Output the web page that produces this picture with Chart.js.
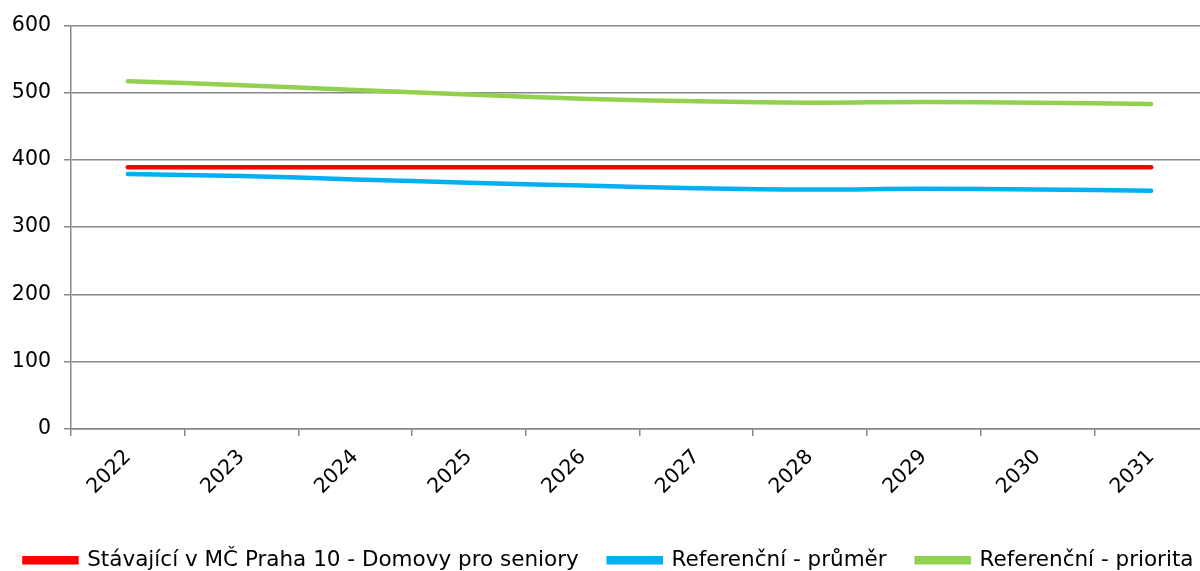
<!DOCTYPE html>
<html>
<head>
<meta charset="utf-8">
<script src="https://cdn.jsdelivr.net/npm/chart.js@4"></script>
<style>
  body { margin: 0; background: #fff; }
  #wrap { width: 1200px; height: 571px; overflow: hidden; }
  #graph { margin-left: -22px; display: block; }
</style>
</head>
<body>
<div id="wrap"><canvas id="graph" width="1262" height="581"></canvas></div>
<script>
const years = ['2022', '2023', '2024', '2025', '2026', '2027', '2028', '2029', '2030', '2031'];
const stavajici = [389, 389, 389, 389, 389, 389, 389, 389, 389, 389];
const prumer = [379, 376, 371, 366, 362, 358, 356, 357, 356, 354];
const priorita = [517, 511, 504, 497, 491, 487, 485, 486, 485, 483];

const family = '"DejaVu Sans", Verdana, sans-serif';
const tickFont = { family: family, size: 20.5 };
const legendFont = { family: family, size: 21.5 };

function line(label, data, color) {
    return {
        label: label,
        data: data,
        borderColor: color,
        backgroundColor: color,
        borderWidth: 4.5,
        pointRadius: 0,
        tension: 0.4,
        borderCapStyle: 'round'
    };
}

const config = {
    type: 'line',
    data: {
        labels: years,
        datasets: [
            line('Stávající v MČ Praha 10 - Domovy pro seniory', stavajici, '#ff0000'),
            line('Referenční - průměr', prumer, '#00b0f0'),
            line('Referenční - priorita', priorita, '#92d050')
        ]
    },
    options: {
        responsive: false,
        animation: false,
        layout: { padding: { top: 12, left: 0, right: 0, bottom: 0 } },
        scales: {
            y: {
                min: 0,
                max: 600,
                ticks: { stepSize: 100, color: '#000', font: tickFont, padding: 13 },
                grid: { color: '#888', lineWidth: 1.5, tickLength: 7 },
                border: { color: '#888', width: 1.5 },
                afterFit: s => { s.width = 93; }
            },
            // empty right axis: the plot stops at the window edge while the legend may run past it
            yRight: {
                position: 'right',
                ticks: { display: false },
                grid: { display: false },
                border: { display: false },
                afterFit: s => { s.width = 32; }
            },
            x: {
                offset: true,
                ticks: { color: '#000', font: tickFont, minRotation: 45, maxRotation: 45, padding: 9 },
                grid: { offset: true, drawOnChartArea: false, color: '#888', lineWidth: 1.5, tickLength: 7 },
                border: { color: '#888', width: 1.5 },
                afterFit: s => { s.height = s.chart.height - 429 - s.chart.legend.height; }
            }
        },
        plugins: {
            legend: {
                position: 'bottom',
                labels: { color: '#000', font: legendFont, boxWidth: 52, boxHeight: 4, padding: 30 }
            },
            tooltip: { enabled: false }
        }
    }
};

const chart = new Chart(document.getElementById('graph'), config);
</script>
</body>
</html>
